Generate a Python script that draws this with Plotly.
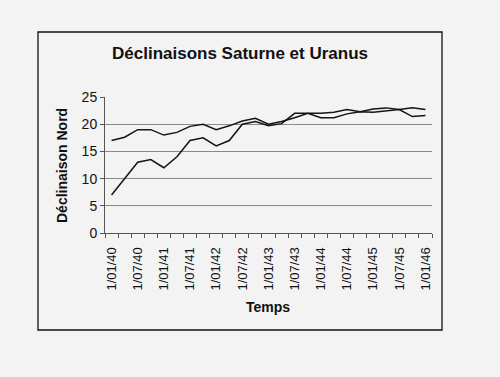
import plotly.graph_objects as go

# Quarterly dates, 1/01/40 .. 1/01/46
categories = ["1/01/40", "1/04/40", "1/07/40", "1/10/40",
              "1/01/41", "1/04/41", "1/07/41", "1/10/41",
              "1/01/42", "1/04/42", "1/07/42", "1/10/42",
              "1/01/43", "1/04/43", "1/07/43", "1/10/43",
              "1/01/44", "1/04/44", "1/07/44", "1/10/44",
              "1/01/45", "1/04/45", "1/07/45", "1/10/45",
              "1/01/46"]
saturne = [17, 17.6, 19, 19, 18, 18.5, 19.6, 20, 19, 19.7, 20.6, 21.1, 20,
           20.5, 21.2, 22, 21.2, 21.2, 21.9, 22.3, 22.2, 22.4, 22.7, 21.4, 21.6]
uranus = [7, 10, 13, 13.5, 12, 14, 17, 17.5, 16, 17, 20, 20.5, 19.7,
          20.1, 22, 22, 22, 22.2, 22.7, 22.3, 22.8, 23, 22.7, 23, 22.7]
tick_labels = categories[::2]
y_ticks = [0, 5, 10, 15, 20, 25]

x_idx = list(range(len(categories)))
font = "Liberation Sans, Arial, sans-serif"

fig = go.Figure()
for name, vals in [("Saturne", saturne), ("Uranus", uranus)]:
    fig.add_trace(go.Scatter(x=x_idx, y=vals, mode="lines", name=name,
                             line=dict(color="#141414", width=1.5)))

# plot area pixel geometry
L, R, T, B = 105, 432, 97, 233
W, H = 500, 377

def px_x(p):
    return (p - L) / (R - L)

def px_y(p):
    return (B - p) / (B - T)

fig.update_layout(
    width=W, height=H,
    margin=dict(l=L, r=W - R, t=T, b=H - B, pad=0),
    paper_bgcolor="#f3f3f3", plot_bgcolor="rgba(0,0,0,0)",
    showlegend=False,
    font=dict(family=font, color="#111", size=14),
    xaxis=dict(
        range=[-0.5, len(categories) - 0.5],
        tickmode="array",
        tickvals=x_idx[::2], ticktext=tick_labels,
        tickangle=-90, ticks="", showgrid=False, zeroline=False,
        ticklabelstandoff=8,
        showline=True, linecolor="#555", linewidth=1,
        tickfont=dict(size=13, family=font, color="#111"),
        minor=dict(tickmode="array",
                   tickvals=[i - 0.5 for i in range(len(categories) + 1)],
                   ticks="outside", ticklen=4, tickcolor="#555", tickwidth=1,
                   showgrid=False),
    ),
    yaxis=dict(
        range=[0, 25], tickmode="array", tickvals=y_ticks,
        ticks="outside", ticklen=4, tickcolor="#555",
        showgrid=True, gridcolor="#8a8a8a", gridwidth=1, zeroline=False,
        showline=True, linecolor="#555", linewidth=1,
        tickfont=dict(size=14, family=font, color="#111"),
    ),
    shapes=[dict(type="rect", xref="paper", yref="paper",
                 x0=px_x(38), x1=px_x(442), y0=px_y(330), y1=px_y(32),
                 line=dict(color="#111", width=1.3), layer="below")],
    annotations=[
        dict(text="<b>Déclinaisons Saturne et Uranus</b>", xref="paper", yref="paper",
             x=px_x(240), y=px_y(53), xanchor="center", yanchor="middle",
             showarrow=False, font=dict(size=17, family=font, color="#111")),
        dict(text="<b>Déclinaison Nord</b>", xref="paper", yref="paper",
             x=px_x(62), y=px_y(166), xanchor="center", yanchor="middle",
             textangle=-90, showarrow=False,
             font=dict(size=14, family=font, color="#111")),
        dict(text="<b>Temps</b>", xref="paper", yref="paper",
             x=px_x(268), y=px_y(307), xanchor="center", yanchor="middle",
             showarrow=False, font=dict(size=14, family=font, color="#111")),
    ],
)
fig.update_yaxes(layer="below traces")

fig.write_html("out.html",
               config={"displayModeBar": False},
               post_script="document.body.style.margin='0';"
                           "document.body.style.background='#f3f3f3';")
